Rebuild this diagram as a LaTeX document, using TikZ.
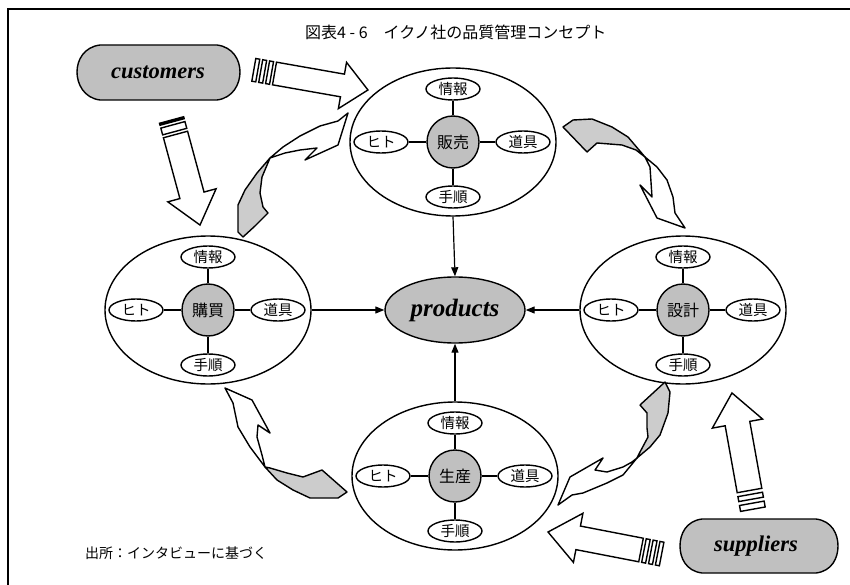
\documentclass[tikz,border=0pt]{standalone}
\usepackage{fontspec}
\newfontfamily\jp{Noto Sans CJK JP}
\newfontfamily\tnr{Liberation Serif}
\usetikzlibrary{shapes.geometric,arrows.meta}
\definecolor{coregray}{RGB}{192,192,192}
\definecolor{ribbongray}{RGB}{204,204,204}
\tikzset{
  bigoval/.style={ellipse, draw, line width=1.4, minimum width=206, minimum height=148, inner sep=0},
  core/.style={circle, draw, line width=1.4, fill=coregray, minimum size=52, inner sep=0,
    font=\jp\fontsize{16}{16}\selectfont},
  sat/.style={ellipse, draw, line width=1.4, fill=white, minimum width=54, minimum height=22,
    inner sep=0, font=\jp\fontsize{14.5}{14.5}\selectfont},
  spoke/.style={line width=1.2},
  flow/.style={line width=1.2, -{Triangle[length=9pt,width=7pt]}},
  blk/.style={draw, line width=1.4, fill=white, line join=miter},
  ribbon/.style={draw, line width=1.4, line join=round},
  tag/.style={draw, line width=1.4, fill=coregray},
  tagtext/.style={font=\tnr\bfseries\itshape\fontsize{22.5}{22.5}\selectfont},
}
% one department: outer oval, grey core, four resources linked to it
\newcommand\qcluster[4]{%
  \begin{scope}[shift={(#2,#3)}]
    \node[bigoval] (#1) at (0,0) {};
    \node[core] (#1c) at (0,0) {#4};
    \node[sat] (#1i) at (0,-53) {情報};
    \node[sat] (#1t) at (0,55) {手順};
    \node[sat] (#1h) at (-72,0) {ヒト};
    \node[sat] (#1d) at (70,0) {道具};
    \draw[spoke] (#1c) -- (#1i);
    \draw[spoke] (#1c) -- (#1t);
    \draw[spoke] (#1c) -- (#1h);
    \draw[spoke] (#1c) -- (#1d);
  \end{scope}}
\begin{document}
\begin{tikzpicture}[x=1pt,y=-1pt]
\useasboundingbox (0,0) rectangle (850,585);
% frame
\draw[line width=1.4] (8,590) -- (8,9) -- (855,9);
% title and source
\node[anchor=west, inner sep=0, font=\jp\fontsize{16}{16}\selectfont] (title) at (305,32)
  {図表4 - 6　イクノ社の品質管理コンセプト};
\node[anchor=west, inner sep=0, font=\jp\fontsize{14}{14}\selectfont] (src) at (85,553)
  {出所：インタビューに基づく};

% four departments
\qcluster{K}{208}{310}{購買}
\qcluster{H}{453}{142}{販売}
\qcluster{S}{683}{310}{設計}
\qcluster{P}{455}{476}{生産}

% products in the middle
\node[ellipse, draw, line width=1.4, fill=coregray, minimum width=140, minimum height=66,
  inner sep=0, tagtext, font=\tnr\bfseries\itshape\fontsize{25}{25}\selectfont] (prod) at (455,310) {products};
\draw[flow] (H.south) -- (prod.north);
\draw[flow] (K.east) -- (prod.west);
\draw[flow] (S.west) -- (prod.east);
\draw[flow] (P.north) -- (prod.south);

% customers and suppliers tags
\draw[tag] (100,45) -- (217,45) .. controls (233,47) and (240,60) .. (240,72)
  .. controls (240,84) and (233,98) .. (217,100) -- (100,100)
  .. controls (84,98) and (77,84) .. (77,72) .. controls (77,60) and (84,47) .. (100,45) -- cycle;
\node[tagtext] (cust) at (158,72) {customers};
\draw[tag] (702,519) -- (816,519) .. controls (832,521) and (838,534) .. (838,546)
  .. controls (838,558) and (832,571) .. (816,573) -- (702,573)
  .. controls (686,571) and (680,558) .. (680,546) .. controls (680,534) and (686,521) .. (702,519) -- cycle;
\node[tagtext] (supp) at (756,546) {suppliers};

% block arrow: customers -> sales
\begin{scope}[shift={(274.5,73.5)}, rotate=-10]
  \draw[blk] (0,-11.5) -- (69,-11.5) -- (69,-23.5) -- (94.9,0) -- (69,23.5) -- (69,11.5) -- (0,11.5) -- cycle;
  \draw[blk] (-7,-11.5) rectangle (-3,11.5);
  \draw[blk] (-14,-11.5) rectangle (-10,11.5);
  \draw[blk] (-21,-11.5) rectangle (-17,11.5);
\end{scope}
% block arrow: customers -> purchasing
\begin{scope}[shift={(175.5,134.5)}, rotate=-74.85]
  \draw[blk] (0,-12.5) -- (63,-12.5) -- (63,-25) -- (93.8,0) -- (63,25) -- (63,12.5) -- (0,12.5) -- cycle;
  \draw[blk] (-10,-12.5) rectangle (-3,12.5);
  \draw[blk, fill=black] (-15,-12.5) rectangle (-13,12.5);
\end{scope}
% block arrow: suppliers -> design
\begin{scope}[shift={(749.5,490.5)}, rotate=100.2]
  \draw[blk] (0,-12.5) -- (68,-12.5) -- (68,-25.5) -- (99.1,0) -- (68,25.5) -- (68,12.5) -- (0,12.5) -- cycle;
  \draw[blk] (-9,-12.5) rectangle (-4,12.5);
  \draw[blk] (-19,-12.5) rectangle (-13,12.5);
\end{scope}
% block arrow: suppliers -> production
\begin{scope}[shift={(641,550)}, rotate=169.05]
  \draw[blk] (0,-12) -- (64,-12) -- (64,-25) -- (94.7,0) -- (64,25) -- (64,12) -- (0,12) -- cycle;
  \draw[blk] (-7,-12) rectangle (-3,12);
  \draw[blk] (-14,-12) rectangle (-10,12);
  \draw[blk] (-21,-12) rectangle (-17,12);
\end{scope}

% twisted cycle arrows: grey back face, white front face with head
% purchasing -> sales
\draw[ribbon, fill=ribbongray] (270,158) -- (257,173) -- (245,190) -- (238,205) -- (238,232)
  -- (243,237) -- (255,226) -- (268,213) -- (263,207) -- (260,193) -- (262,177) -- cycle;
\draw[ribbon, fill=white] (270,158) -- (283,147) -- (300,136) -- (320,126) -- (338,121)
  -- (348,113) -- (338,145) -- (305,160) -- (317,148) -- (300,150) -- (285,153) -- cycle;
% sales -> design
\draw[ribbon, fill=ribbongray] (563,127) -- (573,120) -- (592,119) -- (612,127) -- (628,137)
  -- (645,157) -- (636,150) -- (622,145) -- (597,143) -- (587,152) -- cycle;
\draw[ribbon, fill=white] (645,157) -- (657,167) -- (667,180) -- (673,197) -- (675,213)
  -- (685,228) -- (657,218) -- (640,185) -- (652,197) -- (650,167) -- cycle;
% design -> production
\draw[ribbon, fill=ribbongray] (665,382) -- (670,392) -- (668,413) -- (660,435) -- (650,447)
  -- (637,458) -- (640,452) -- (648,437) -- (647,428) -- (647,413) -- (640,405) -- cycle;
\draw[ribbon, fill=white] (637,458) -- (623,475) -- (607,483) -- (583,493) -- (572,495)
  -- (558,505) -- (570,477) -- (603,458) -- (595,470) -- (607,472) -- (623,467) -- (632,462) -- cycle;
% production -> purchasing
\draw[ribbon, fill=ribbongray] (322,470) -- (347,492) -- (338,498) -- (310,498) -- (293,490)
  -- (277,480) -- (265,467) -- (270,468) -- (287,473) -- (303,477) -- cycle;
\draw[ribbon, fill=white] (265,467) -- (250,447) -- (238,427) -- (233,403) -- (225,388)
  -- (252,400) -- (270,433) -- (258,425) -- (257,437) -- (262,455) -- cycle;
\end{tikzpicture}
\end{document}
